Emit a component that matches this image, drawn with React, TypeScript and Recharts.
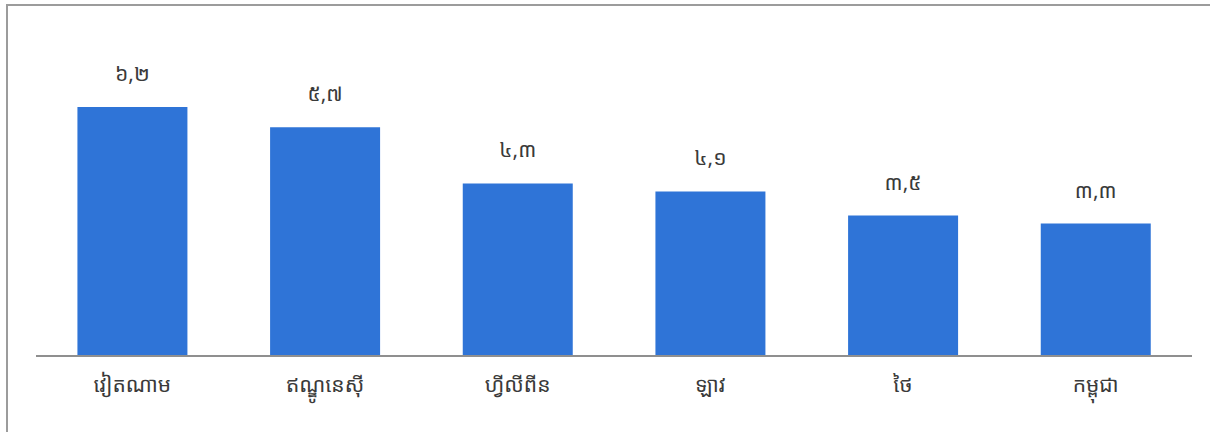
import { Bar, BarChart, LabelList, XAxis, YAxis } from "recharts";

const countries = ["វៀតណាម", "ឥណ្ឌូនេស៊ី", "ហ្វីលីពីន", "ឡាវ", "ថៃ", "កម្ពុជា"];
const rates = [6.2, 5.7, 4.3, 4.1, 3.5, 3.3];
const khmerDigits = ["០", "១", "២", "៣", "៤", "៥", "៦", "៧", "៨", "៩"];

const data = countries.map((name, i) => ({ name, value: rates[i] }));

function toKhmer(v: number) {
  return v
    .toFixed(1)
    .replace(".", ",")
    .replace(/[0-9]/g, (d) => khmerDigits[Number(d)]);
}

const font = "'Noto Sans', 'Noto Sans Khmer', sans-serif";

export default function App() {
  return (
    <div style={{ position: "fixed", left: 0, top: 0, width: 1210, height: 432, background: "#fff" }}>
      <div
        style={{
          position: "absolute",
          left: 6,
          top: 4,
          right: 0,
          bottom: 0,
          borderLeft: "2px solid #9c9c9c",
          borderTop: "2px solid #9c9c9c"
        }}
      />
      <BarChart
        width={1210}
        height={432}
        data={data}
        margin={{ top: 75, right: 18, bottom: 0, left: 36 }}
        barCategoryGap="21.5%"
        style={{ position: "absolute", left: 0, top: 0, fontFamily: font }}
      >
        <XAxis
          dataKey="name"
          height={76}
          axisLine={{ stroke: "#8f8f8f", strokeWidth: 2 }}
          tickLine={false}
          tickMargin={15}
          interval={0}
          tick={{ fill: "#3a3a3a", fontSize: 21, fontFamily: font }}
        />
        <YAxis hide domain={[0, 7]} />
        <Bar dataKey="value" fill="#2f74d7" isAnimationActive={false}>
          <LabelList
            dataKey="value"
            position="top"
            offset={26}
            formatter={(v: number) => toKhmer(v)}
            style={{ fill: "#3a3a3a", fontSize: 21, fontFamily: font }}
          />
        </Bar>
      </BarChart>
    </div>
  );
}
